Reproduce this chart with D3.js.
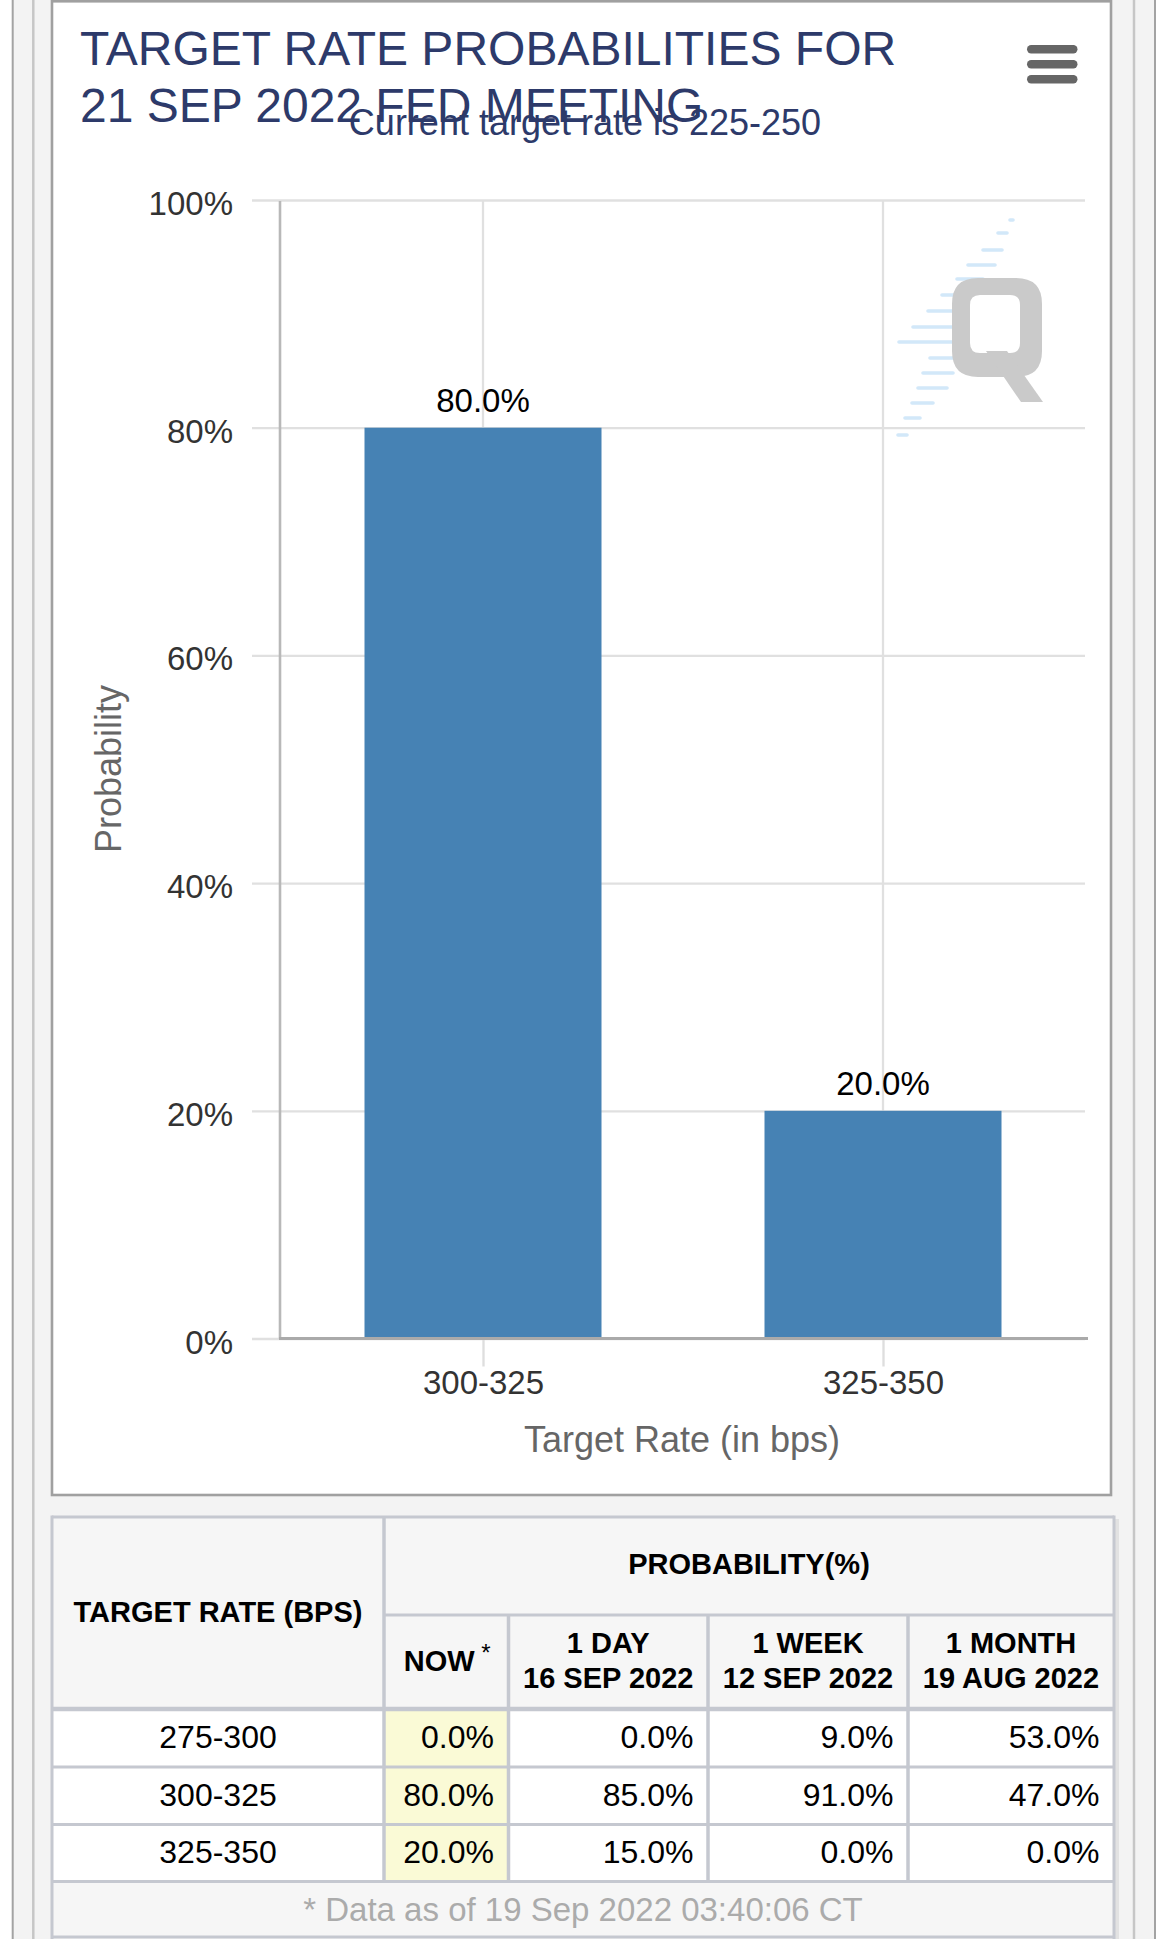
<!DOCTYPE html>
<html>
<head>
<meta charset="utf-8">
<script src="https://cdn.jsdelivr.net/npm/d3@7"></script>
<style>
  html, body { margin: 0; padding: 0; background: #ffffff; }
  svg { display: block; font-family: "Liberation Sans", Arial, Helvetica, sans-serif; }
</style>
</head>
<body>
<script>
// ---------------- DATA ----------------
const titleLines = ["TARGET RATE PROBABILITIES FOR", "21 SEP 2022 FED MEETING"];
const subtitle = "Current target rate is 225-250";
const xAxisTitle = "Target Rate (in bps)";
const yAxisTitle = "Probability";

const categories = ["300-325", "325-350"];
const probabilities = [80.0, 20.0];
const yTicks = [0, 20, 40, 60, 80, 100];

const tableRates = ["275-300", "300-325", "325-350"];
const nowValues = [0.0, 80.0, 20.0];
const oneDayValues = [0.0, 85.0, 15.0];
const oneWeekValues = [9.0, 91.0, 0.0];
const oneMonthValues = [53.0, 47.0, 0.0];
const periodLabels = ["1 DAY", "1 WEEK", "1 MONTH"];
const periodDates = ["16 SEP 2022", "12 SEP 2022", "19 AUG 2022"];
const tableHeadRate = "TARGET RATE (BPS)";
const tableHeadProb = "PROBABILITY(%)";
const tableHeadNow = "NOW";
const footnote = "* Data as of 19 Sep 2022 03:40:06 CT";

// ---------------- LAYOUT ----------------
const W = 1170, H = 1939;
const svg = d3.select("body").append("svg").attr("width", W).attr("height", H);

// page frame
svg.append("rect").attr("x", 0).attr("y", 0).attr("width", W).attr("height", H).attr("fill", "#ffffff");
svg.append("rect").attr("x", 12.7).attr("y", 0).attr("width", 1155 - 12.7).attr("height", H).attr("fill", "#f3f3f3");
[[12.7, "#a3a3a3", 2], [1155, "#a3a3a3", 2], [33.3, "#c6c6c6", 2.5], [1134, "#c6c6c6", 2.5]].forEach(([x, c, w]) => {
  svg.append("line").attr("x1", x).attr("x2", x).attr("y1", 0).attr("y2", H).attr("stroke", c).attr("stroke-width", w);
});
// chart box
svg.append("rect").attr("x", 52).attr("y", 1.3).attr("width", 1111 - 52).attr("height", 1495 - 1.3)
  .attr("fill", "#ffffff").attr("stroke", "#a0a0a0").attr("stroke-width", 2.6);

// ---------------- TITLE ----------------
const navy = "#2d3a6a";
titleLines.forEach((t, i) => {
  svg.append("text").attr("x", 80).attr("y", 65 + i * 57).attr("font-size", 48).attr("fill", navy).text(t);
});
svg.append("text").attr("x", 585).attr("y", 135).attr("text-anchor", "middle").attr("font-size", 36)
  .attr("fill", navy).text(subtitle);

// menu icon
[45, 60, 75].forEach(y => {
  svg.append("rect").attr("x", 1027).attr("y", y).attr("width", 50.5).attr("height", 8.4)
    .attr("rx", 4.2).attr("fill", "#666666");
});

// ---------------- CHART ----------------
const plotLeft = 280, plotRight = 1085, plotTop = 200, plotBottom = 1338.5;
const y = d3.scaleLinear().domain([0, 100]).range([plotBottom, plotTop]);
const x = d3.scalePoint().domain(categories).range([283, 1083]).padding(0.5);
const barWidth = x.step() * 0.5925;

// horizontal grid + y labels
const yAxis = d3.axisLeft(y).tickValues(yTicks).tickFormat(d => d + "%")
  .tickSize(plotRight - 252).tickPadding(19);
const gy = svg.append("g").attr("transform", `translate(${plotRight},0)`).call(yAxis);
gy.select(".domain").remove();
gy.selectAll(".tick line").attr("stroke", "#e0e0e0").attr("stroke-width", 2.3);
gy.selectAll(".tick text").attr("font-size", 33).attr("fill", "#333333")
  .attr("font-family", "'Liberation Sans', Arial, sans-serif").attr("dy", "0.44em");

// vertical grid lines at category centres
svg.append("g").selectAll("line").data(categories).join("line")
  .attr("x1", d => x(d)).attr("x2", d => x(d)).attr("y1", plotTop).attr("y2", plotBottom)
  .attr("stroke", "#e0e0e0").attr("stroke-width", 2.3);

// watermark logo
const wm = svg.append("g").attr("opacity", 1);
const dashes = [[220, 1010, 1013], [233, 998, 1007], [250, 983, 1002], [265, 968, 995], [279, 957, 983],
  [295, 942, 954], [311, 928, 953], [327, 913, 953], [342, 899, 953], [358, 930, 953], [373, 923, 953],
  [388, 918, 947], [403, 912, 933], [418, 905, 920], [435, 898, 907]];
wm.selectAll("line").data(dashes).join("line")
  .attr("x1", d => d[1]).attr("x2", d => d[2]).attr("y1", d => d[0]).attr("y2", d => d[0])
  .attr("stroke", "#d2e8f9").attr("stroke-width", 3.6).attr("stroke-linecap", "round");
function rrect(x0, y0, w, h, r) {
  return `M${x0 + r},${y0}H${x0 + w - r}Q${x0 + w},${y0} ${x0 + w},${y0 + r}V${y0 + h - r}Q${x0 + w},${y0 + h} ${x0 + w - r},${y0 + h}H${x0 + r}Q${x0},${y0 + h} ${x0},${y0 + h - r}V${y0 + r}Q${x0},${y0} ${x0 + r},${y0}Z`;
}
wm.append("path").attr("fill-rule", "evenodd").attr("fill", "#cacaca")
  .attr("d", rrect(952, 278, 90, 99, 26) + rrect(970, 295, 50, 58, 10));
wm.append("path").attr("fill", "#cacaca").attr("d", "M986,351L1007,351L1043,402L1021,402Z");

// bars
svg.append("g").selectAll("rect").data(probabilities).join("rect")
  .attr("x", (d, i) => x(categories[i]) - barWidth / 2)
  .attr("y", d => y(d))
  .attr("width", barWidth)
  .attr("height", d => y(0) - y(d))
  .attr("fill", "#4682b4");

// data labels
svg.append("g").selectAll("text").data(probabilities).join("text")
  .attr("x", (d, i) => x(categories[i]))
  .attr("y", d => y(d) - 16)
  .attr("text-anchor", "middle").attr("font-size", 33).attr("fill", "#000000")
  .text(d => d3.format(".1f")(d) + "%");

// y axis line
svg.append("line").attr("x1", plotLeft).attr("x2", plotLeft).attr("y1", plotTop + 1).attr("y2", plotBottom)
  .attr("stroke", "#b8b8b8").attr("stroke-width", 2.6);

// x axis
const xAxis = d3.axisBottom(x).tickSize(28).tickPadding(4.4);
const gx = svg.append("g").attr("transform", `translate(0,${plotBottom})`).call(xAxis);
gx.select(".domain").remove();
gx.selectAll(".tick line").attr("stroke", "#dedede").attr("stroke-width", 2.3);
gx.selectAll(".tick text").attr("font-size", 33).attr("fill", "#333333")
  .attr("font-family", "'Liberation Sans', Arial, sans-serif");
svg.append("line").attr("x1", plotLeft - 1).attr("x2", plotRight + 3).attr("y1", plotBottom).attr("y2", plotBottom)
  .attr("stroke", "#aaaaaa").attr("stroke-width", 2.8);

// axis titles
svg.append("text").attr("x", 682).attr("y", 1451.7).attr("text-anchor", "middle")
  .attr("font-size", 36).attr("fill", "#666666").text(xAxisTitle);
svg.append("text").attr("transform", "translate(121,769) rotate(-90)").attr("text-anchor", "middle")
  .attr("font-size", 36).attr("fill", "#666666").text(yAxisTitle);

// ---------------- TABLE ----------------
const colEdges = [52, 384, 508.5, 708, 908, 1114];
const tTop = 1517, tMid = 1615, tHeadBot = 1709, rowBots = [1767, 1824.5, 1881.5], tBot = 1937;
const borderC = "#c5c8d0";
const tg = svg.append("g");

// shadow right
tg.append("rect").attr("x", 1115).attr("y", tTop + 2).attr("width", 4).attr("height", H - tTop)
  .attr("fill", "#e2e2e2");
// backgrounds
tg.append("rect").attr("x", colEdges[0]).attr("y", tTop).attr("width", colEdges[5] - colEdges[0])
  .attr("height", H - tTop).attr("fill", "#f6f6f6");
tg.append("rect").attr("x", colEdges[0]).attr("y", tHeadBot).attr("width", colEdges[5] - colEdges[0])
  .attr("height", rowBots[2] - tHeadBot).attr("fill", "#ffffff");
tg.append("rect").attr("x", colEdges[1]).attr("y", tHeadBot).attr("width", colEdges[2] - colEdges[1])
  .attr("height", rowBots[2] - tHeadBot).attr("fill", "#fafad6");

function hline(y0, x1, x2, w) {
  tg.append("line").attr("x1", x1).attr("x2", x2).attr("y1", y0).attr("y2", y0)
    .attr("stroke", borderC).attr("stroke-width", w);
}
function vline(x0, y1, y2, w) {
  tg.append("line").attr("x1", x0).attr("x2", x0).attr("y1", y1).attr("y2", y2)
    .attr("stroke", borderC).attr("stroke-width", w);
}
vline(colEdges[1], tTop, rowBots[2], 3.5);
[2, 3, 4].forEach(i => vline(colEdges[i], tMid, rowBots[2], 3.5));
hline(tMid, colEdges[1], colEdges[5], 3);
hline(tHeadBot, colEdges[0], colEdges[5], 4.5);
rowBots.forEach(rb => hline(rb, colEdges[0], colEdges[5], 3));
vline(colEdges[0], tTop - 1.5, H, 3);
vline(colEdges[5], tTop - 1.5, H, 3);
hline(tTop, colEdges[0], colEdges[5], 3);
hline(tBot, colEdges[0], colEdges[5], 3);

// header text
const hdr = { "font-size": 29, "font-weight": "bold", "fill": "#000000", "text-anchor": "middle" };
function applyAttrs(sel, obj) { Object.entries(obj).forEach(([k, v]) => sel.attr(k, v)); return sel; }
applyAttrs(tg.append("text"), hdr).attr("x", (colEdges[0] + colEdges[1]) / 2).attr("y", 1621.7).text(tableHeadRate);
applyAttrs(tg.append("text"), hdr).attr("x", (colEdges[1] + colEdges[5]) / 2).attr("y", 1574.3).text(tableHeadProb);
const nowT = applyAttrs(tg.append("text"), hdr).attr("x", (colEdges[1] + colEdges[2]) / 2 + 1).attr("y", 1670.7);
nowT.append("tspan").text(tableHeadNow);
nowT.append("tspan").attr("font-size", 24).attr("font-weight", "normal").attr("dy", -9.7).text(" *");
periodLabels.forEach((p, i) => {
  const cx = (colEdges[i + 2] + colEdges[i + 3]) / 2;
  applyAttrs(tg.append("text"), hdr).attr("x", cx).attr("y", 1652.8).text(p);
  applyAttrs(tg.append("text"), hdr).attr("x", cx).attr("y", 1688.3).text(periodDates[i]);
});

// body rows
const fmt = v => d3.format(".1f")(v) + "%";
const rowTops = [tHeadBot, rowBots[0], rowBots[1]];
const tableRows = tableRates.map((r, i) => [r, nowValues[i], oneDayValues[i], oneWeekValues[i], oneMonthValues[i]]);
tableRows.forEach((row, i) => {
  const by = (rowTops[i] + rowBots[i]) / 2 + 9.8;
  tg.append("text").attr("x", (colEdges[0] + colEdges[1]) / 2).attr("y", by)
    .attr("text-anchor", "middle").attr("font-size", 32).attr("fill", "#000").text(row[0]);
  row.slice(1).forEach((v, j) => {
    tg.append("text").attr("x", colEdges[j + 2] - 14.5).attr("y", by)
      .attr("text-anchor", "end").attr("font-size", 32).attr("fill", "#000").text(fmt(v));
  });
});

// footnote
tg.append("text").attr("x", (colEdges[0] + colEdges[5]) / 2).attr("y", 1920.7).attr("text-anchor", "middle")
  .attr("font-size", 33).attr("fill", "#ababab").text(footnote);
</script>
</body>
</html>
